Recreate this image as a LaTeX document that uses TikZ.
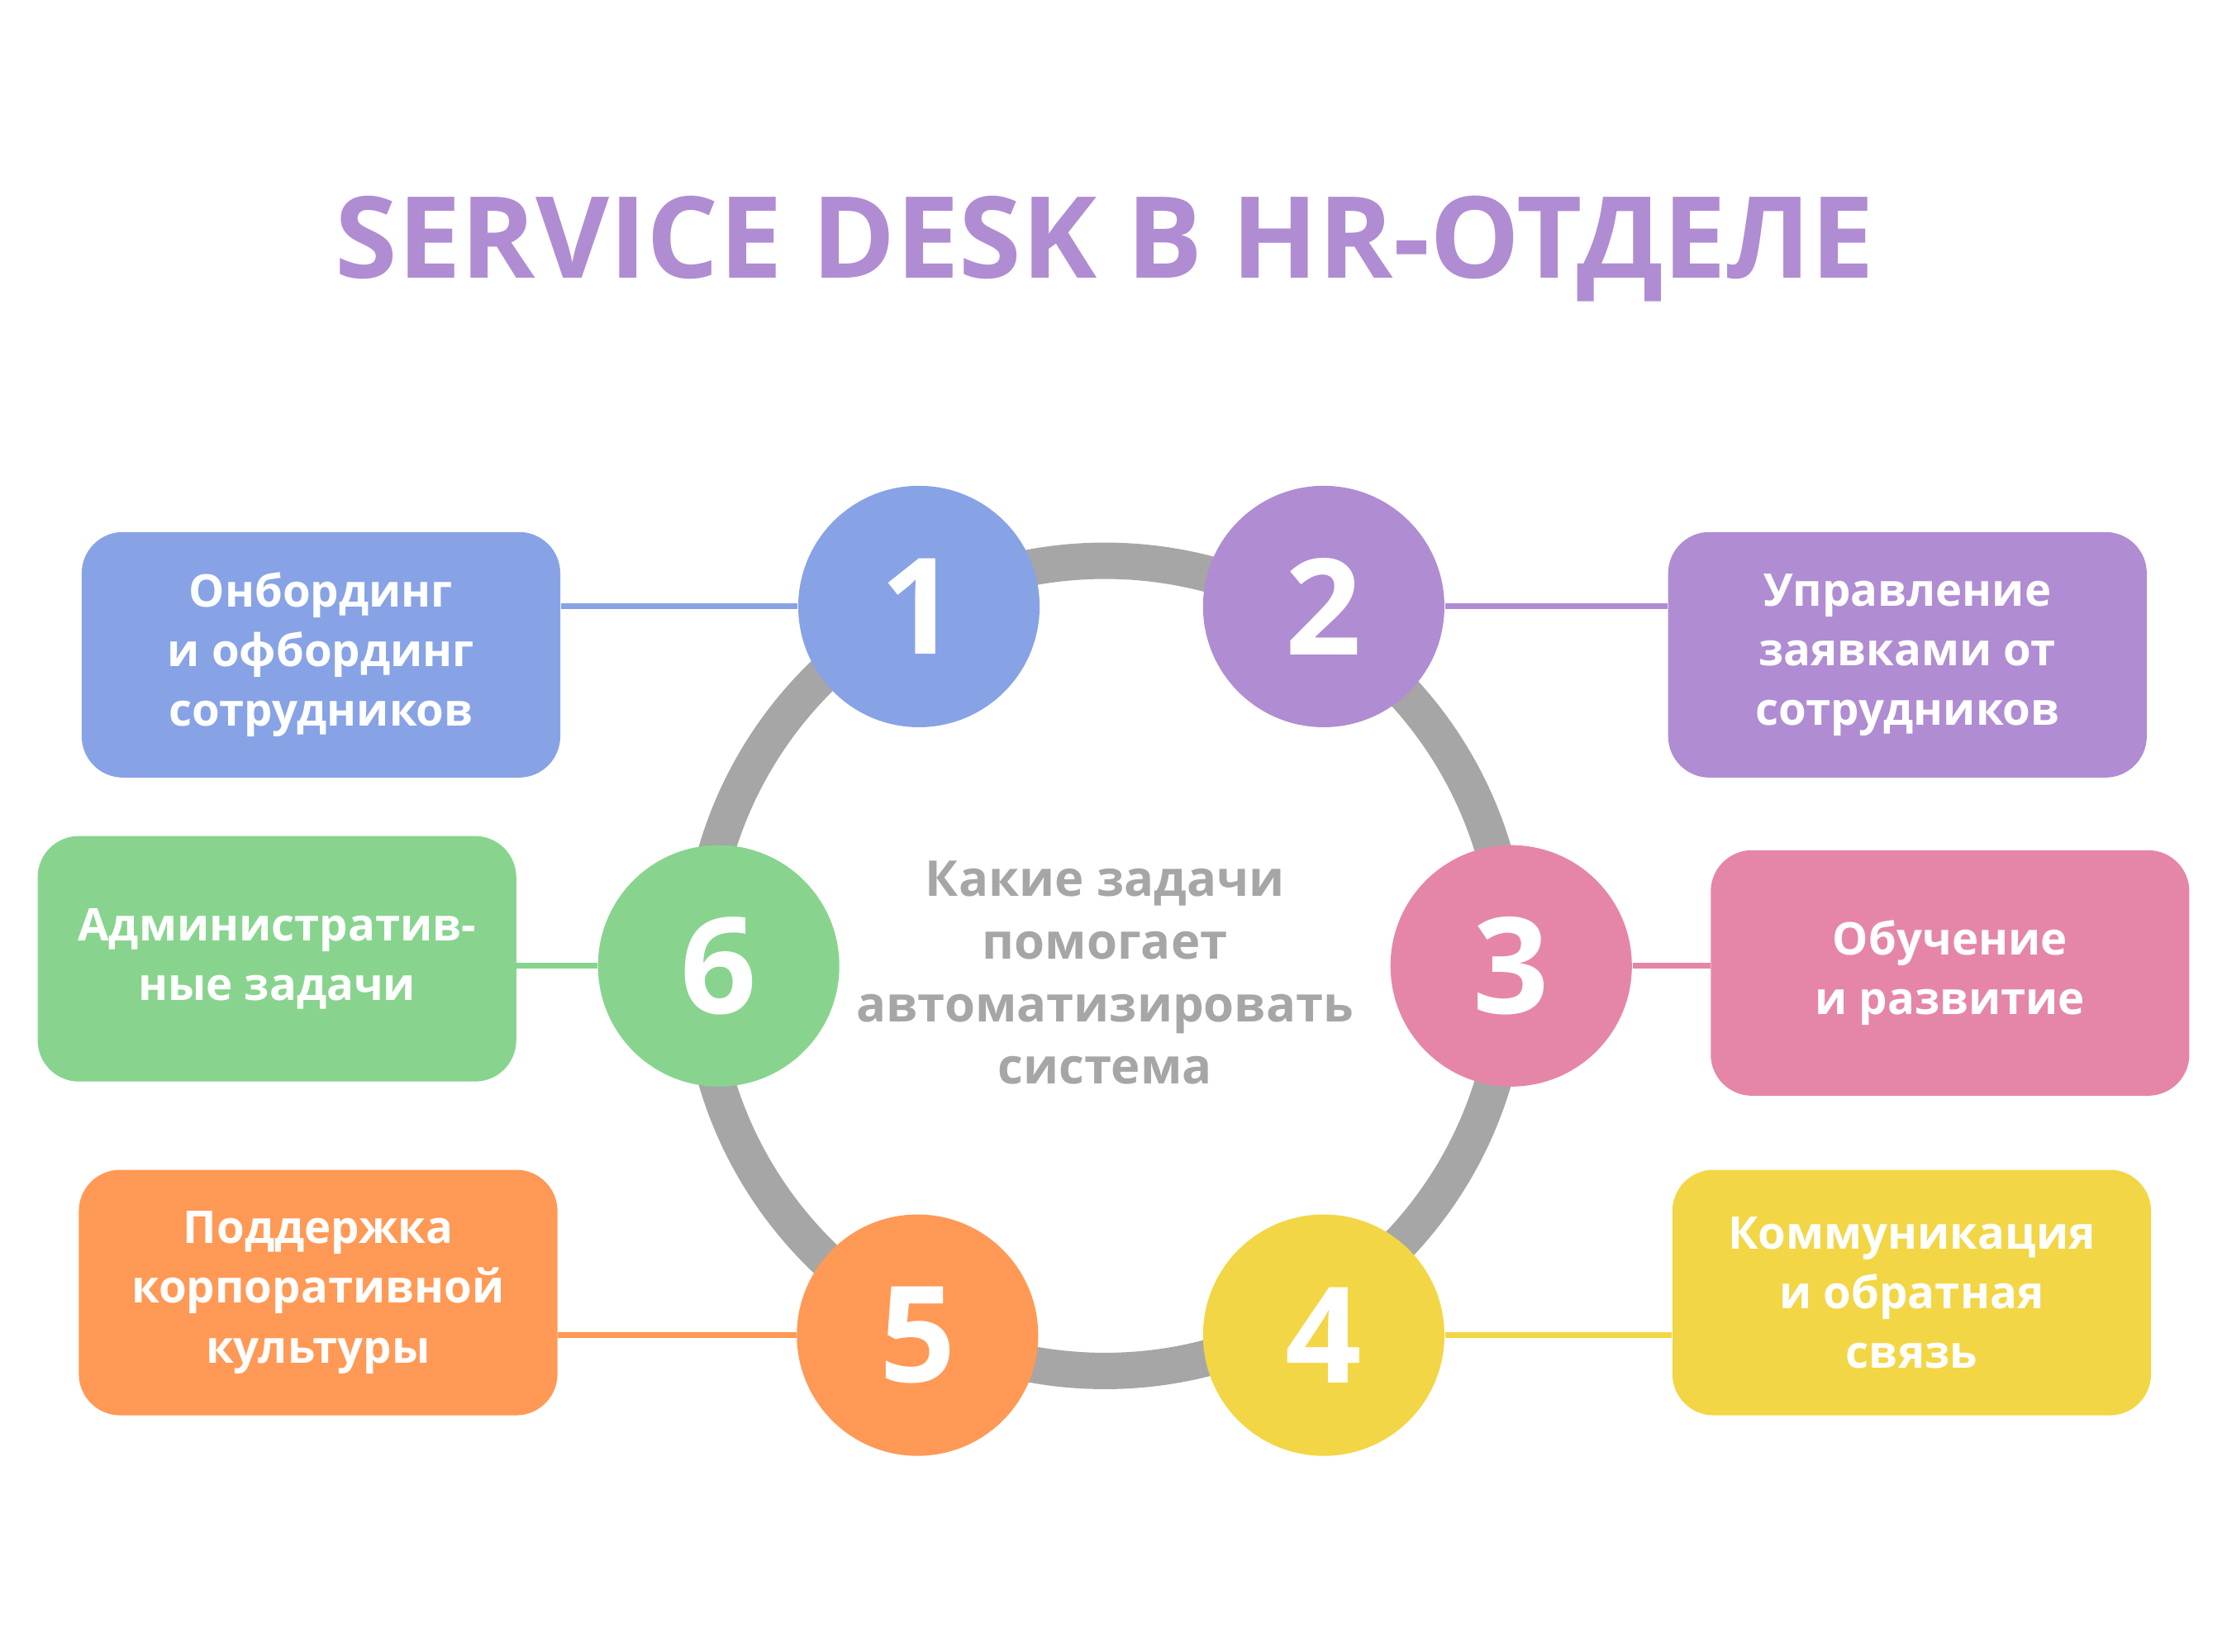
\documentclass[tikz,border=0pt]{standalone}
\usepackage{fontspec}
\setmainfont{Open Sans}
\usetikzlibrary{positioning}
\definecolor{cblue}{HTML}{87A3E5}
\definecolor{cpurple}{HTML}{B08CD2}
\definecolor{cpink}{HTML}{E586A8}
\definecolor{cyellow}{HTML}{F2D645}
\definecolor{corange}{HTML}{FF9955}
\definecolor{cgreen}{HTML}{88D48E}
\definecolor{cgray}{HTML}{A6A6A6}
\begin{document}
\begin{tikzpicture}
                [x=0.017187cm,y=-0.017187cm,
                num/.style={circle,fill=#1,minimum size=2.92cm,inner sep=0pt,text=white,font=\fontsize{46}{46}\selectfont\bfseries},
                box/.style={rounded corners=0.5cm,fill=#1,minimum width=5.79cm,minimum height=2.97cm,text=white,align=center,font=\fontsize{15.5}{20.5}\selectfont\bfseries},
                link/.style={draw=#1,line width=0.07cm}]
                \useasboundingbox (0,0) rectangle (1568,1163);
                \node[text=cpurple,font=\fontsize{39}{39}\selectfont\bfseries] (title) at (778,175) {SERVICE DESK В HR-ОТДЕЛЕ};
                \draw[cgray,line width=0.44cm] (778,680) circle[radius=4.9cm];
                \node[text=cgray,align=center,font=\fontsize{17}{21.5}\selectfont\bfseries] (q) at (778,685)
                        {Какие задачи\\помогает\\автоматизировать\\система};
                \node[num=cblue] (c1) at (647,427){1};
                \node[num=cpurple] (c2) at (932,427){2};
                \node[num=cpink] (c3) at (1064,680){3};
                \node[num=cyellow] (c4) at (932,940){4};
                \node[num=corange] (c5) at (646,940){5};
                \node[num=cgreen] (c6) at (506,680){6};
                \node[box=cblue] (b1) at (226,461){Онбординг\\и офбординг\\сотрудников};
                \node[box=cpurple] (b2) at (1343,461){Управление\\заявками от\\сотрудников};
                \node[box=cpink] (b3) at (1373,685){Обучение\\и развитие};
                \node[box=cyellow] (b4) at (1346,910){Коммуникация\\и обратная\\связь};
                \node[box=corange] (b5) at (224,910){Поддержка\\корпоративной\\культуры};
                \node[box=cgreen] (b6) at (195,675){Административ-\\ные задачи};
                \begin{scope}[on background layer/.style={}]
                \draw[link=cblue] (b1.east |- c1) -- (c1);
                \draw[link=cpurple] (c2) -- (b2.west |- c2);
                \draw[link=cpink] (c3) -- (b3.west |- c3);
                \draw[link=cyellow] (c4) -- (b4.west |- c4);
                \draw[link=corange] (b5.east |- c5) -- (c5);
                \draw[link=cgreen] (b6.east |- c6) -- (c6);
                \end{scope}
            \end{tikzpicture}
\end{document}
